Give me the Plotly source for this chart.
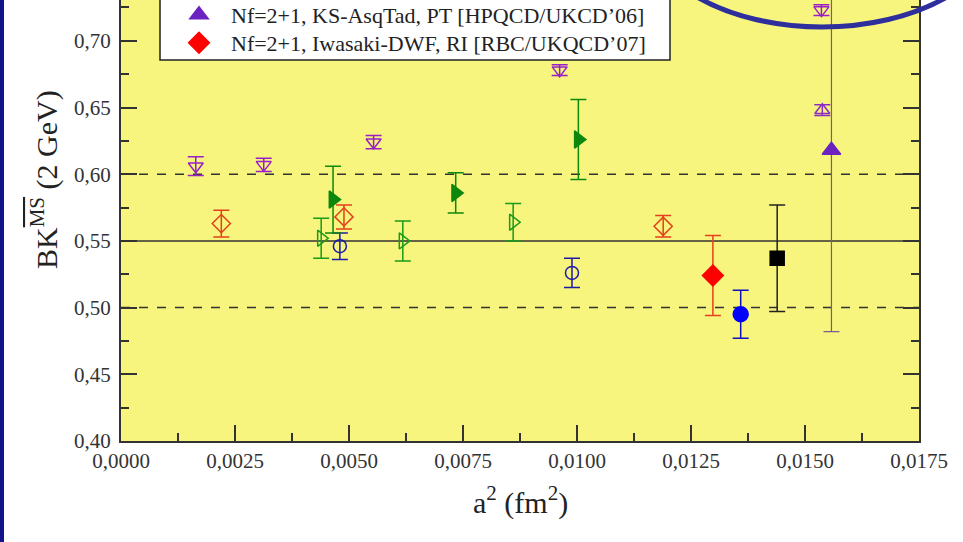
import plotly.graph_objects as go

# ---------------- data ----------------
x_open_dtri = [0.00164, 0.00313, 0.00554, 0.00962, 0.01536]
y_open_dtri = [0.606, 0.607, 0.624, 0.678, 0.723]
e_open_dtri = [0.007, 0.005, 0.005, 0.004, 0.004]

x_open_utri = [0.01538]
y_open_utri = [0.648]
e_open_utri = [0.004]

x_ks = [0.01558]
y_ks = [0.618]
e_ks = [0.136]

x_green_f = [0.00465, 0.00734, 0.01003]
y_green_f = [0.581, 0.586, 0.626]
e_green_f = [0.025, 0.015, 0.030]

x_green_o = [0.00439, 0.00618, 0.00860]
y_green_o = [0.552, 0.550, 0.564]
e_green_o = [0.015, 0.015, 0.014]

x_red_o = [0.00220, 0.00489, 0.01189]
y_red_o = [0.563, 0.568, 0.561]
e_red_o = [0.010, 0.009, 0.008]

x_rbc = [0.01298]
y_rbc = [0.524]
e_rbc = [0.030]

x_blue_o = [0.00480, 0.00989]
y_blue_o = [0.546, 0.526]
e_blue_o = [0.010, 0.011]

x_blue_f = [0.01359]
y_blue_f = [0.495]
e_blue_f = [0.018]

x_black = [0.01439]
y_black = [0.537]
e_black = [0.040]

ref_solid = [0.55]
ref_dashed = [0.50, 0.60]

legend_ks = "Nf=2+1, KS-AsqTad, PT [HPQCD/UKCD\u201906]"
legend_rbc = "Nf=2+1, Iwasaki-DWF, RI [RBC/UKQCD\u201907]"

# ---------------- figure ----------------
W, H = 963, 542
L, R, T, B = 121, 44, 0, 101
PW, PH = W - L - R, H - T - B

def px_x(p):
    return (p - L) / PW

def px_y(p):
    return (PH - p) / PH

fig = go.Figure()

def add(x, y, e, symbol, color, size, ecolor=None, name=None, legend=None, lw=1.5, ethick=1.5):
    fig.add_trace(go.Scatter(
        x=x, y=y, mode="markers", name=name, showlegend=legend is not None,
        legend=legend or "legend",
        marker=dict(symbol=symbol, color=color, size=size, line=dict(color=color, width=lw)),
        error_y=dict(type="data", array=e, visible=True, color=ecolor or color,
                     thickness=ethick, width=8),
    ))

add(x_open_dtri, y_open_dtri, e_open_dtri, "triangle-down-open", "#9a1fc8", 13)
add(x_open_utri, y_open_utri, e_open_utri, "triangle-up-open", "#8a2cc0", 13)
add(x_green_o, y_green_o, e_green_o, "triangle-right-open", "#1a9a1a", 14)
add(x_red_o, y_red_o, e_red_o, "diamond-open", "#e2401c", 14)
add(x_blue_o, y_blue_o, e_blue_o, "circle-open", "#1c1ca8", 13)
add(x_green_f, y_green_f, e_green_f, "triangle-right", "#0d880d", 15)
add(x_blue_f, y_blue_f, e_blue_f, "circle", "#0000ff", 15, ecolor="#1010c0")
add(x_black, y_black, e_black, "square", "#000000", 14, ecolor="#222222")
add(x_ks, y_ks, e_ks, "triangle-up", "#6a22c0", 16, ecolor="#7a5a90", name=legend_ks,
    legend="legend", ethick=1.2)
add(x_rbc, y_rbc, e_rbc, "diamond", "#ff0000", 16, ecolor="#e8401c", name=legend_rbc,
    legend="legend2")

shapes = []
for v in ref_solid:
    shapes.append(dict(type="line", xref="paper", yref="y", x0=0, x1=1, y0=v, y1=v,
                       line=dict(color="#333333", width=1.5), layer="below"))
for v in ref_dashed:
    shapes.append(dict(type="line", xref="paper", yref="y", x0=0, x1=1, y0=v, y1=v,
                       line=dict(color="#333333", width=1.5, dash="dash"), layer="below"))
# left navy strip
shapes.append(dict(type="rect", xref="paper", yref="paper",
                   x0=px_x(-2), x1=px_x(4), y0=px_y(H + 2), y1=px_y(-2),
                   fillcolor="#12128c", line=dict(width=0)))
# legend box (its top lies beyond the picture)
shapes.append(dict(type="rect", xref="paper", yref="paper",
                   x0=px_x(160), x1=px_x(670), y0=px_y(60), y1=px_y(-20),
                   fillcolor="white", line=dict(color="#222222", width=1.5), layer="above"))
# ellipse highlight
shapes.append(dict(type="circle", xref="paper", yref="paper",
                   x0=px_x(642), x1=px_x(1002), y0=px_y(27), y1=px_y(-187),
                   line=dict(color="#2e2e9c", width=5)))

tickfont = dict(family="Liberation Serif", size=21, color="#333333")
minor_common = dict(ticklen=8, ticks="inside", tickcolor="#333333", tickwidth=1.5)
axis_common = dict(showgrid=False, zeroline=False, showline=True, linecolor="#333333",
                   linewidth=2, ticks="inside", ticklen=16, tickwidth=1.5,
                   tickcolor="#333333", tickfont=tickfont)

legend_common = dict(xref="container", yref="container", xanchor="left", yanchor="middle",
                     bgcolor="rgba(0,0,0,0)", borderwidth=0,
                     font=dict(family="Liberation Serif", size=22, color="#222222"),
                     itemwidth=54, indentation=7)

fig.update_layout(
    width=W, height=H,
    margin=dict(l=L, r=R, t=T, b=B, autoexpand=False),
    paper_bgcolor="white",
    plot_bgcolor="#f7f57d",
    separators=", ",
    showlegend=True,
    legend=dict(x=160 / W, y=(H - 15) / H, **legend_common),
    legend2=dict(x=160 / W, y=(H - 43) / H, **legend_common),
    xaxis=dict(range=[0, 0.0175], dtick=0.0025, tick0=0, tickformat=".4f",
               minor=dict(dtick=0.00125, **minor_common),
               ticklabelstandoff=0, mirror=False, **axis_common),
    yaxis=dict(range=[0.40, 0.40 + PH / 1334], dtick=0.05, tick0=0.40, tickformat=".2f",
               minor=dict(dtick=0.025, **minor_common),
               ticklabelstandoff=4, mirror="ticks", **axis_common),
    shapes=shapes,
    annotations=[
        dict(text="a<sup>2</sup> (fm<sup>2</sup>)", xref="paper", yref="paper",
             x=px_x(520), y=px_y(500), xanchor="center", yanchor="middle", showarrow=False,
             font=dict(family="Liberation Serif", size=30, color="#222222")),
        dict(text="BK<sup><span style=\"text-decoration:overline\">MS</span></sup> (2 GeV)",
             xref="paper", yref="paper", textangle=-90,
             x=px_x(44), y=px_y(180), xanchor="center", yanchor="middle", showarrow=False,
             font=dict(family="Liberation Serif", size=30, color="#222222")),
    ],
)

fig.write_html("out.html", config={"displayModeBar": False},
               post_script="document.body.style.margin='0';document.body.style.overflow='hidden';")
